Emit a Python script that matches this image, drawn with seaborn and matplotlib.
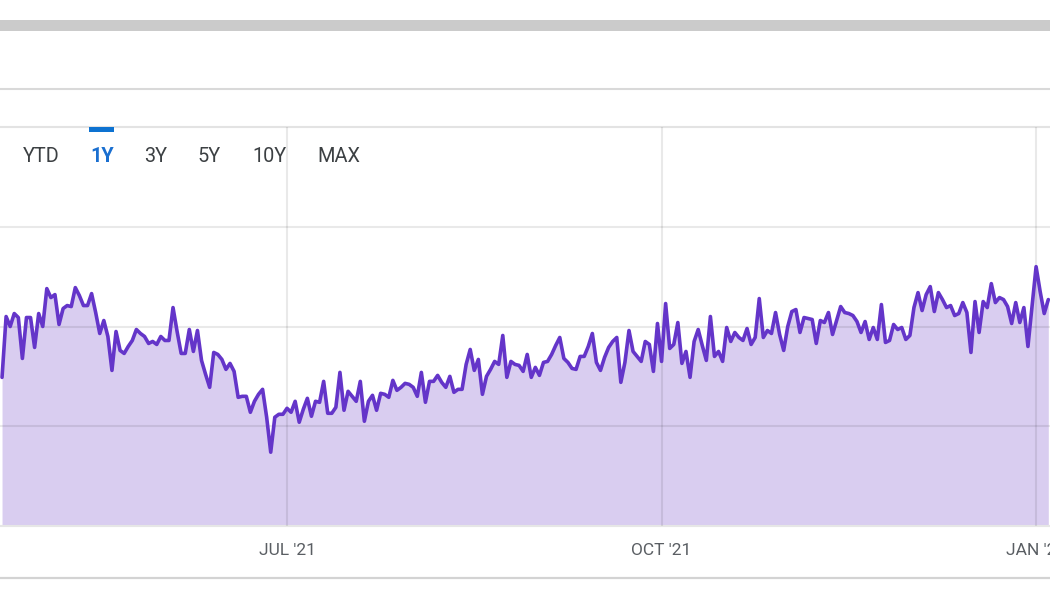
import matplotlib
matplotlib.use("Agg")
import matplotlib.pyplot as plt
from matplotlib.patches import Rectangle
from matplotlib.lines import Line2D
import numpy as np
import pandas as pd
import seaborn as sns

# ---------------- data ----------------
start_date = "2021-04-22"
values_spring = [149, 210, 200, 213, 209, 168, 209, 209, 179, 213,
                 200, 238, 229, 232, 202, 218, 221, 220, 239, 231,
                 221, 221, 233, 214, 193, 206, 190, 156, 195, 176,
                 173, 180, 186, 197, 193, 190, 183, 185, 182, 190,
                 186, 186, 219, 195, 173, 173, 197, 175, 196, 166,
                 152, 139]
values_summer = [174, 172, 167, 157, 163, 155, 129, 130, 130, 114,
                 125, 132, 137, 109, 74, 109, 112, 112, 118, 114,
                 125, 104, 117, 128, 110, 125, 124, 145, 113, 113,
                 119, 154, 116, 135, 130, 125, 145, 105, 125, 131,
                 116, 133, 132, 129, 146, 136, 139, 143, 142, 139,
                 130]
values_late_summer = [154, 124, 145, 145, 151, 144, 139, 150, 134, 137,
                      137, 162, 177, 156, 167, 132, 150, 157, 165, 162,
                      191, 149, 165, 162, 161, 155, 172, 149, 159, 151,
                      164, 165, 172, 181, 189, 168, 164, 158, 157, 170,
                      170, 180, 193, 164, 156, 169, 179, 185, 189, 144,
                      164]
values_autumn = [196, 175, 170, 165, 185, 182, 155, 203, 165, 223,
                 178, 182, 204, 163, 175, 149, 185, 197, 181, 166,
                 210, 170, 175, 165, 199, 185, 194, 189, 186, 198,
                 182, 189, 228, 189, 196, 193, 214, 192, 176, 200,
                 215, 217, 194, 209, 208, 207, 183, 206, 204, 214,
                 192, 206]
values_winter = [220, 214, 213, 211, 205, 194, 205, 187, 199, 187,
                 222, 184, 186, 202, 197, 199, 187, 191, 219, 234,
                 216, 232, 240, 215, 234, 227, 219, 221, 211, 213,
                 224, 214, 174, 225, 194, 225, 219, 243, 224, 229,
                 227, 220, 203, 224, 204, 219, 180, 220, 260, 235,
                 213, 227]

tick_dates = ["2021-07-01", "2021-10-01", "2022-01-01"]
tick_labels = ["JUL '21", "OCT '21", "JAN '22"]
range_buttons = ["YTD", "1Y", "3Y", "5Y", "10Y", "MAX"]
active_button = "1Y"
y_grid = [100, 200, 300]

values = values_spring + values_summer + values_late_summer + values_autumn + values_winter
df = pd.DataFrame({
    "date": pd.date_range(start_date, periods=len(values), freq="D"),
    "value": values,
})

# ---------------- styling ----------------
sns.set_style("white")
plt.rcParams["font.family"] = ["Roboto", "DejaVu Sans"]

LINE = "#6435c9"
FILL = "#d9cdf0"

fig = plt.figure(figsize=(10.5, 6), dpi=100)
fig.patch.set_facecolor("white")
ax = fig.add_axes([0.0, 74 / 600, 1.0, 399 / 600])

ax.fill_between(df["date"], df["value"], 0, color=FILL, lw=0, zorder=1)
sns.lineplot(data=df, x="date", y="value", ax=ax, color=LINE, lw=2.6, zorder=4)

ax.set_xlim(pd.Timestamp("2021-04-21 12:00"), pd.Timestamp("2022-01-04 10:00"))
ax.set_ylim(0, 400)

ax.set_xticks(pd.to_datetime(tick_dates))
ax.set_xticklabels(tick_labels)
ax.set_yticks(y_grid)
ax.set_yticklabels([])
ax.tick_params(axis="x", length=0, pad=12, labelsize=12.5, labelcolor="#5a5e63")
ax.tick_params(axis="y", length=0)
ax.grid(True, color="#000000", alpha=0.085, lw=1.5)
ax.set_axisbelow(False)
for gl in ax.get_xgridlines() + ax.get_ygridlines():
    gl.set_zorder(2)
ax.set_xlabel("")
ax.set_ylabel("")

for side in ["left", "right"]:
    ax.spines[side].set_visible(False)
ax.spines["top"].set_color("#e3e3e3")
ax.spines["top"].set_linewidth(1.5)
ax.spines["bottom"].set_color("#e6e6e6")
ax.spines["bottom"].set_linewidth(1.5)

# ---------------- page chrome around the chart ----------------
fig.add_artist(Rectangle((0, (600 - 31) / 600), 1, 11 / 600,
                         transform=fig.transFigure, color="#cbcbcb", lw=0))
fig.add_artist(Line2D([0, 1], [(600 - 88.5) / 600] * 2,
                      transform=fig.transFigure, color="#d9d9d9", lw=1.5))
fig.add_artist(Line2D([0, 1], [(600 - 578) / 600] * 2,
                      transform=fig.transFigure, color="#d3d3d3", lw=1.6))

# range selector buttons
btn_x = [41, 102.5, 155.5, 209.5, 269.5, 338.5]
for label, bx in zip(range_buttons, btn_x):
    active = label == active_button
    fig.text(bx / 1050, 1 - 156.5 / 600, label, ha="center", va="center",
             fontsize=14.3, color="#1a6fd0" if active else "#3c4043",
             fontweight="bold" if active else "normal", zorder=10)
    if active:
        fig.add_artist(Rectangle((89 / 1050, (600 - 132) / 600), 25 / 1050, 5 / 600,
                                 transform=fig.transFigure, color="#0d72d1", lw=0, zorder=11))

fig.savefig("out.png", dpi=100, facecolor="white")
